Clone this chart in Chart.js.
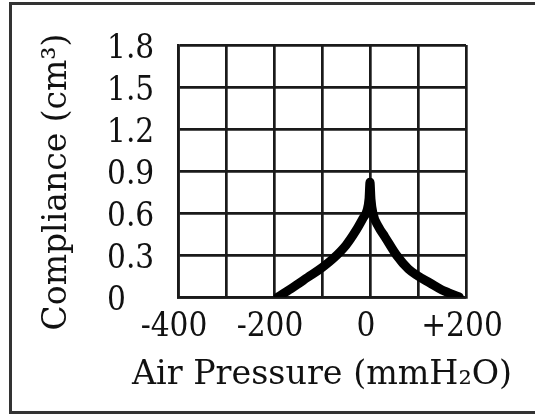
<!DOCTYPE html>
<html>
<head>
<meta charset="utf-8">
<script src="https://cdn.jsdelivr.net/npm/chart.js@4/dist/chart.umd.min.js"></script>
<style>
  html, body { margin: 0; padding: 0; background: #fff; }
  #wrap { width: 535px; height: 419px; }
</style>
</head>
<body>
<div id="wrap"><canvas id="c" width="535" height="419"></canvas></div>
<script>
// Tympanogram: middle-ear compliance against ear-canal air pressure
const pressure   = [-192, -160, -130, -100, -75, -50, -30, -15, -6, -2, 0, 2, 6, 18, 31, 55, 80, 100, 125, 150, 164, 186];
const compliance = [0, 0.07, 0.14, 0.21, 0.28, 0.37, 0.47, 0.56, 0.62, 0.70, 0.82, 0.70, 0.60, 0.50, 0.43, 0.30, 0.20, 0.15, 0.10, 0.05, 0.03, 0];

const xTickValues = [-400, -300, -200, -100, 0, 100, 200];
const xTickLabels = ['-400', '', '-200', '', '0', '', '+200'];
const yTickValues = [0, 0.3, 0.6, 0.9, 1.2, 1.5, 1.8];
const yTickLabels = ['0', '0.3', '0.6', '0.9', '1.2', '1.5', '1.8'];

const xTitle = 'Air Pressure (mmH\u2082O)';
const yTitle = 'Compliance (cm\u00B3)';

const tickFont  = { family: "'DejaVu Serif Condensed', 'DejaVu Serif', serif", size: 33 };
const titleFont = { family: "'DejaVu Serif', serif", size: 33 };
const ink = '#111';
const gridInk = '#1a1a1a';

// outer frame around the figure
const framePlugin = {
  id: 'frame',
  beforeDraw(chart) {
    const ctx = chart.ctx;
    ctx.save();
    ctx.fillStyle = '#fff';
    ctx.fillRect(0, 0, chart.width, chart.height);
    ctx.strokeStyle = '#333';
    ctx.lineWidth = 3;
    ctx.strokeRect(10.5, 3.5, chart.width + 20, 409);
    ctx.restore();
  }
};

// nudge the vertical axis title a little below the plot's centre line
const titleShiftPlugin = {
  id: 'titleShift',
  afterLayout(chart) {
    const s = chart.scales.yTitleAxis;
    s.top += 11;
    s.bottom += 11;
  }
};

// the horizontal axis title is set in a wide face: stretch it about its centre
const wideTitlePlugin = {
  id: 'wideTitle',
  afterUpdate(chart) {
    const s = chart.scales.x;
    if (s._wideTitle) return;
    s._wideTitle = true;
    const base = s.drawTitle;
    s.drawTitle = function () {
      const ctx = this.ctx;
      const cx = (this.left + this.right) / 2;
      ctx.save();
      ctx.translate(cx, 0);
      ctx.scale(1.32, 1);
      ctx.translate(-cx, 0);
      base.call(this);
      ctx.restore();
    };
  }
};

new Chart(document.getElementById('c'), {
  type: 'line',
  data: {
    datasets: [{
      data: pressure.map((p, i) => ({ x: p, y: compliance[i] })),
      borderColor: '#000',
      borderWidth: 9,
      borderJoinStyle: 'round',
      borderCapStyle: 'round',
      pointRadius: 0,
      cubicInterpolationMode: 'monotone',
      fill: false
    }]
  },
  options: {
    responsive: false,
    animation: false,
    layout: { padding: { left: 10, top: 45, right: 69, bottom: 0 } },
    plugins: { legend: { display: false }, tooltip: { enabled: false } },
    scales: {
      x: {
        type: 'linear',
        min: -400,
        max: 200,
        afterBuildTicks(scale) { scale.ticks = xTickValues.map(v => ({ value: v })); },
        afterFit(scale) { scale.height = 122; },
        grid: { color: gridInk, lineWidth: 2.7, drawTicks: false },
        border: { color: gridInk, width: 2.7 },
        ticks: {
          autoSkip: false,
          maxRotation: 0,
          padding: 11,
          labelOffset: -4,
          color: ink,
          font: tickFont,
          callback: (v, i) => xTickLabels[i]
        },
        title: {
          display: true,
          text: xTitle,
          color: ink,
          font: titleFont,
          padding: { top: 0, bottom: 24 }
        }
      },
      y: {
        type: 'linear',
        position: 'left',
        weight: 0,
        min: 0,
        max: 1.8,
        afterBuildTicks(scale) { scale.ticks = yTickValues.map(v => ({ value: v })); },
        afterFit(scale) { scale.width = 71; },
        grid: { color: gridInk, lineWidth: 2.7, drawTicks: false },
        border: { color: gridInk, width: 2.7 },
        ticks: {
          autoSkip: false,
          crossAlign: 'far',
          padding: 8,
          labelOffset: 4,
          color: ink,
          font: tickFont,
          callback: (v, i) => yTickLabels[i]
        }
      },
      yTitleAxis: {
        type: 'linear',
        position: 'left',
        weight: 1,
        afterFit(scale) { scale.width = 97; },
        grid: { display: false },
        border: { display: false },
        ticks: { display: false },
        title: {
          display: true,
          text: yTitle,
          color: ink,
          font: titleFont,
          padding: { top: 28, bottom: 0 }
        }
      }
    }
  },
  plugins: [framePlugin, titleShiftPlugin, wideTitlePlugin]
});
</script>
</body>
</html>
